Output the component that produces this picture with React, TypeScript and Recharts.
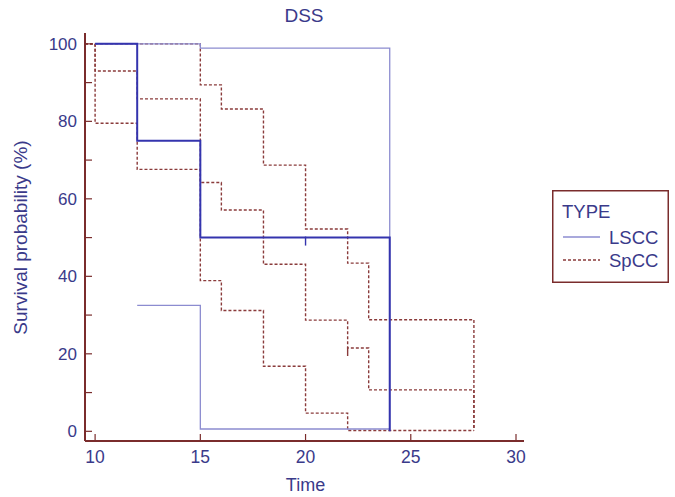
import { ComposedChart, Line, Scatter, XAxis, YAxis, Legend, Customized } from 'recharts';

const X_MIN = 9.52;
const X_MAX = 30.38;
const Y_MIN = -2.5;
const Y_MAX = 102.8;

const xTicks = [10, 15, 20, 25, 30];
const yTicks = [0, 10, 20, 30, 40, 50, 60, 70, 80, 90, 100];
const yLabelled = [0, 20, 40, 60, 80, 100];

// LSCC: estimate + 95% CI
const lsccTime = [10, 12, 15, 24];
const lsccSurv = [100, 75, 50, 0];
const lsccUpperTime = [10, 15, 24];
const lsccUpper = [100, 98.9, 0.5];
const lsccLowerTime = [12, 15, 24];
const lsccLower = [32.5, 0.6, 0.6];
const lsccCensorTime = [20];
const lsccCensorSurv = [50];

// SpCC: estimate + 95% CI
const spccTime = [X_MIN, 10, 12, 15, 16, 18, 20, 22, 23, 28];
const spccSurv = [100, 93, 85.8, 64.2, 57.1, 43.1, 28.7, 21.5, 10.7, 0.3];
const spccUpperTime = [X_MIN, 15, 16, 18, 20, 22, 23, 28];
const spccUpper = [100, 89.4, 83.2, 68.7, 52.2, 43.4, 28.8, 0.3];
const spccLowerTime = [X_MIN, 10, 12, 15, 16, 18, 20, 22, 28];
const spccLower = [100, 79.5, 67.6, 38.9, 31.2, 16.8, 4.7, 0.2, 0.2];
const spccCensorTime = [22];
const spccCensorSurv = [21.5];

const FONT = '"Liberation Sans", Arial, sans-serif';
const FRAME = '#7a2c2c';
const INK = '#3a3a8a';
const BLUE = '#3434ae';
const BLUE_CI = '#8c8cd0';
const BROWN = '#8a3b3b';

// chart box: plot area runs from x=85 (y-axis width) to 524, y=33 to 441
const W = 675;
const H = 497;
const Y_AXIS_W = 85;
const X_AXIS_H = 56;
const PLOT_LEFT = Y_AXIS_W;
const PLOT_BOTTOM = H - X_AXIS_H;

const pts = (t: number[], v: number[]) => t.map((x, i) => ({ t: x, v: v[i] }));

function YTick({ y, payload }: any) {
  return (
    <g>
      <line x1={PLOT_LEFT} x2={PLOT_LEFT + 7} y1={y} y2={y} stroke={FRAME} strokeWidth={1.2} />
      {yLabelled.includes(payload.value) && (
        <text x={PLOT_LEFT - 8} y={y} dy={6} textAnchor="end" fill={INK} fontSize={17} fontFamily={FONT}>
          {payload.value}
        </text>
      )}
    </g>
  );
}

function XTick({ x, payload }: any) {
  return (
    <g>
      <line x1={x} x2={x} y1={PLOT_BOTTOM} y2={PLOT_BOTTOM - 7} stroke={FRAME} strokeWidth={1.2} />
      <text x={x} y={PLOT_BOTTOM + 22} textAnchor="middle" fill={INK} fontSize={17.5} fontFamily={FONT}>
        {payload.value}
      </text>
    </g>
  );
}

const censorMark = (color: string) => (p: any) => (
  <line x1={p.cx} x2={p.cx} y1={p.cy - 1} y2={p.cy + 8} stroke={color} strokeWidth={1.4} />
);

const groups = [
  { name: 'LSCC', color: BLUE_CI, dash: undefined },
  { name: 'SpCC', color: BROWN, dash: '3 2' },
];

function TypeLegend() {
  return (
    <svg width={117} height={93} style={{ display: 'block' }}>
      <rect x={0.75} y={0.75} width={115.5} height={91.5} fill="#fff" stroke={FRAME} strokeWidth={1.5} />
      <text x={10} y={28} fill={INK} fontSize={18.5} fontFamily={FONT}>TYPE</text>
      {groups.map((g, i) => (
        <g key={g.name}>
          <line x1={11} x2={48} y1={47 + i * 23} y2={47 + i * 23} stroke={g.color} strokeWidth={1.5} strokeDasharray={g.dash} />
          <text x={57} y={53.5 + i * 23} fill={INK} fontSize={18.5} fontFamily={FONT}>{g.name}</text>
        </g>
      ))}
    </svg>
  );
}

function Texts() {
  return (
    <g fontFamily={FONT} fill={INK}>
      <text x={304} y={21.7} textAnchor="middle" fontSize={19}>DSS</text>
      <text transform="translate(27,237.5) rotate(-90)" textAnchor="middle" fontSize={19}>Survival probability (%)</text>
      <text x={305.5} y={491} textAnchor="middle" fontSize={18}>Time</text>
    </g>
  );
}

export default function App() {
  return (
    <div style={{ position: 'absolute', left: 0, top: 0, width: W, height: H, background: '#fff' }}>
      <ComposedChart width={W} height={H} margin={{ top: 33, right: 151, bottom: 0, left: 0 }}>
        <XAxis
          dataKey="t" type="number" domain={[X_MIN, X_MAX]} ticks={xTicks} allowDataOverflow
          height={X_AXIS_H} tickLine={false}
          axisLine={{ stroke: FRAME, strokeWidth: 2 }} tick={<XTick />}
        />
        <XAxis xAxisId="top" orientation="top" type="number" domain={[X_MIN, X_MAX]} height={0}
          tick={false} tickLine={false} axisLine={{ stroke: FRAME, strokeWidth: 2 }} />
        <YAxis
          type="number" domain={[Y_MIN, Y_MAX]} ticks={yTicks} allowDataOverflow
          width={Y_AXIS_W} tickLine={false}
          axisLine={{ stroke: FRAME, strokeWidth: 2 }} tick={<YTick />}
        />
        <YAxis yAxisId="right" orientation="right" type="number" domain={[Y_MIN, Y_MAX]} width={0}
          tick={false} tickLine={false} axisLine={{ stroke: FRAME, strokeWidth: 2 }} />

        <Line data={pts(spccUpperTime, spccUpper)} dataKey="v" type="stepAfter" stroke={BROWN} strokeWidth={1.4} strokeDasharray="3 2" dot={false} isAnimationActive={false} />
        <Line data={pts(spccLowerTime, spccLower)} dataKey="v" type="stepAfter" stroke={BROWN} strokeWidth={1.4} strokeDasharray="3 2" dot={false} isAnimationActive={false} />
        <Line data={pts(spccTime, spccSurv)} dataKey="v" type="stepAfter" stroke={BROWN} strokeWidth={1.4} strokeDasharray="3 2" dot={false} isAnimationActive={false} />
        <Scatter data={pts(spccCensorTime, spccCensorSurv)} dataKey="v" shape={censorMark(BROWN)} isAnimationActive={false} />

        <Line data={pts(lsccUpperTime, lsccUpper)} dataKey="v" type="stepAfter" stroke={BLUE_CI} strokeWidth={1.3} dot={false} isAnimationActive={false} />
        <Line data={pts(lsccLowerTime, lsccLower)} dataKey="v" type="stepAfter" stroke={BLUE_CI} strokeWidth={1.3} dot={false} isAnimationActive={false} />
        <Line data={pts(lsccTime, lsccSurv)} dataKey="v" type="stepAfter" stroke={BLUE} strokeWidth={2} dot={false} isAnimationActive={false} />
        <Scatter data={pts(lsccCensorTime, lsccCensorSurv)} dataKey="v" shape={censorMark(BLUE)} isAnimationActive={false} />

        <Legend layout="vertical" align="center" verticalAlign="middle" content={<TypeLegend />}
          wrapperStyle={{ left: 552, top: 190, width: 117, height: 93 }} />
        <Customized component={<Texts />} />
      </ComposedChart>
    </div>
  );
}
